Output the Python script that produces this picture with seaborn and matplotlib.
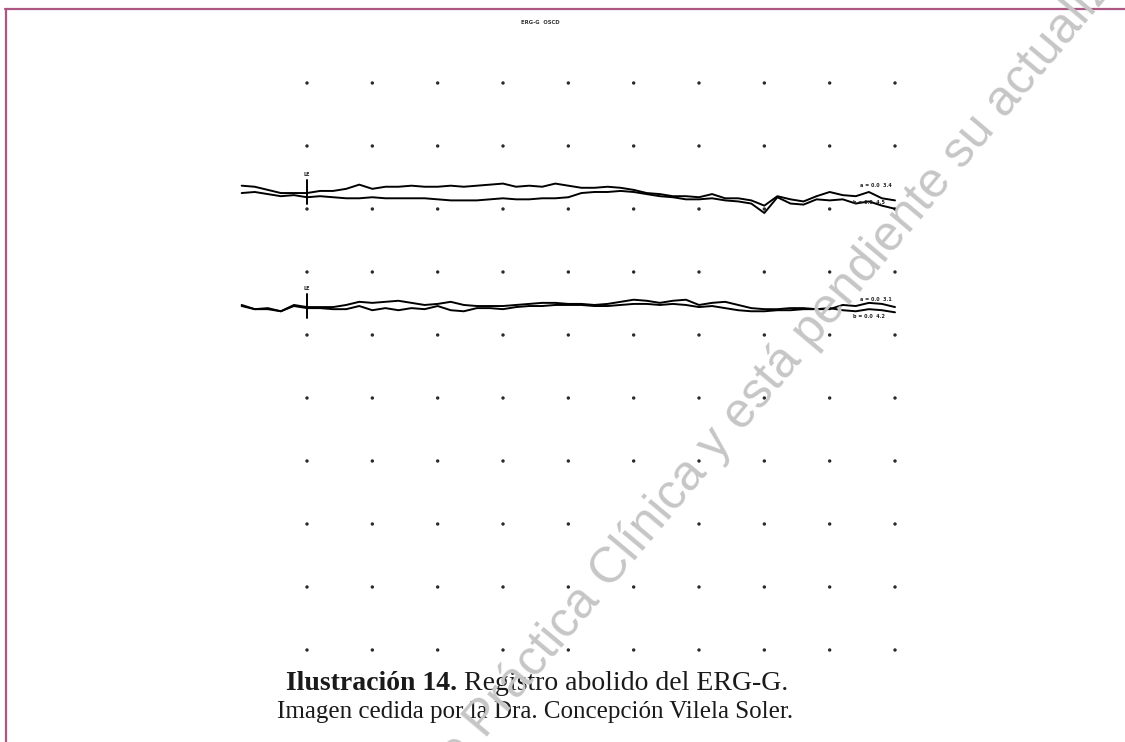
import matplotlib
matplotlib.use('Agg')
import numpy as np
import pandas as pd
import matplotlib.pyplot as plt
from matplotlib.lines import Line2D
import seaborn as sns

# sampling clock of the recording (ms), stimulus at 0
time_ms = [-20, -16, -12, -8, -4, 0, 4, 8, 12, 16,
           20, 24, 28, 32, 36, 40, 44, 48, 52, 56,
           60, 64, 68, 72, 76, 80, 84, 88, 92, 96,
           100, 104, 108, 112, 116, 120, 124, 128, 132, 136,
           140, 144, 148, 152, 156, 160, 164, 168, 172, 176,
           180]

# channel 1 (upper trace), two superimposed runs, uV from baseline
ch1_run1 = [6, 5, 2, -1, -1, -1, 1, 1, 3, 7,
            3, 5, 5, 6, 5, 5, 6, 5, 6, 7,
            8, 5, 6, 5, 8, 6, 4, 4, 5, 4,
            2, -1, -2, -4, -4, -5, -2, -6, -6, -8,
            -13, -4, -7, -9, -4, 0, -3, -4, 0, -6,
            -8]
ch1_run2 = [-1, 0, -2, -4, -3, -5, -4, -5, -6, -6,
            -5, -6, -6, -6, -6, -7, -8, -8, -8, -7,
            -6, -7, -7, -6, -6, -5, -1, 0, 0, 1,
            0, -2, -4, -5, -7, -7, -6, -8, -9, -11,
            -20, -5, -11, -12, -7, -8, -7, -11, -9, -13,
            -16]

# channel 2 (lower trace)
ch2_run1 = [1, -3, -2, -5, 1, -1, -1, -1, 1, 4,
            3, 4, 5, 3, 1, 2, 4, 1, 0, 0,
            0, 1, 2, 3, 3, 2, 2, 1, 2, 4,
            6, 5, 3, 5, 6, 1, 3, 4, 1, -2,
            -3, -3, -2, -2, -3, -3, 1, 0, 3, 2,
            -1]
ch2_run2 = [0, -3, -3, -5, 0, -2, -2, -3, -3, 0,
            -4, -2, -4, -2, -3, 0, -4, -5, -2, -2,
            -3, -1, 0, 0, 1, 1, 1, 0, 0, 1,
            2, 2, 1, 2, 1, -1, 0, -2, -4, -5,
            -5, -4, -4, -3, -3, -2, -4, -5, -3, -4,
            -6]

channel_names = ['LE', 'LE']
readout_top = ['a = 0.0  3.4', 'a = 0.0  3.1']
readout_bottom = ['b = 0.0  4.5', 'b = 0.0  4.2']

# dotted screen grid: columns every 20 ms, rows every division
grid_cols_ms = [0, 20, 40, 60, 80, 100, 120, 140, 160, 180]
grid_rows_div = [0, -1, -2, -3, -4, -5, -6, -7, -8, -9]

UV_PER_DIV = 60
baselines = [-1.73, -3.54]

sns.set_style('white')
plt.rcParams['font.family'] = ['DejaVu Sans']

W, H = 1125, 742
fig = plt.figure(figsize=(W / 100, H / 100), dpi=100)
fig.patch.set_facecolor('white')

# axes placed so that one ms / one division land on the screen grid
x0_px, px_per_ms = 307, 3.2667
y0_px, px_per_div = 83, 63
xlim = (-30, 190)
ylim = (-9.5, 0.5)
left = (x0_px + xlim[0] * px_per_ms) / W
right = (x0_px + xlim[1] * px_per_ms) / W
top = 1 - (y0_px - ylim[1] * px_per_div) / H
bottom = 1 - (y0_px - ylim[0] * px_per_div) / H
ax = fig.add_axes([left, bottom, right - left, top - bottom])
ax.set_xlim(*xlim)
ax.set_ylim(*ylim)
ax.axis('off')

grid = pd.DataFrame([(c, r) for r in grid_rows_div for c in grid_cols_ms],
                    columns=['t', 'row'])
sns.scatterplot(data=grid, x='t', y='row', ax=ax, s=6, color='#2a2a2a',
                edgecolor='none', legend=False)

channels = [(ch1_run1, ch1_run2), (ch2_run1, ch2_run2)]
for i, (runs, base) in enumerate(zip(channels, baselines)):
    for run in runs:
        y = base + np.array(run) / UV_PER_DIV
        sns.lineplot(x=time_ms, y=y, ax=ax, color='black', lw=1.4,
                     estimator=None, sort=False)
    # stimulus marker
    ax.plot([0, 0], [base - 0.19, base + 0.19], color='black', lw=1.4)
    ax.text(0, base + 0.24, channel_names[i], fontsize=3.5,
            fontweight='bold', ha='center', va='bottom', color='#222222')
    ax.text(time_ms[-1] - 1, base + 0.07, readout_top[i], fontsize=3.5,
            fontweight='bold', ha='right', va='bottom', color='#222222')
    ax.text(time_ms[-1] - 3, base - 0.13, readout_bottom[i], fontsize=3.5,
            fontweight='bold', ha='right', va='top', color='#222222')

fig.text(540 / W, 1 - 22 / H, 'ERG-G  OSCD', fontsize=3.8, fontweight='bold',
         ha='center', va='center', color='#333333')

# page frame
frame_col = '#ad5681'
fig.add_artist(Line2D([5 / W, 1], [1 - 9 / H, 1 - 9 / H], color=frame_col,
                      lw=1.6, transform=fig.transFigure))
fig.add_artist(Line2D([6 / W, 6 / W], [0, 1 - 9 / H], color=frame_col,
                      lw=1.6, transform=fig.transFigure))

# caption: bold label followed by regular text, centred as one line
serif = ['Liberation Serif', 'DejaVu Serif']
renderer = fig.canvas.get_renderer()
cap_y = 1 - 683 / H
t_bold = fig.text(0, cap_y, 'Ilustración 14.', fontsize=20,
                  fontweight='bold', family=serif, va='center', ha='left',
                  color='#1a1a1a')
t_reg = fig.text(0, cap_y, ' Registro abolido del ERG-G.', fontsize=20,
                 family=serif, va='center', ha='left', color='#1a1a1a')
wb = t_bold.get_window_extent(renderer).width / W
wr = t_reg.get_window_extent(renderer).width / W
start = 537 / W - (wb + wr) / 2
t_bold.set_x(start)
t_reg.set_x(start + wb)
fig.text(535 / W, 1 - 712 / H,
         'Imagen cedida por la Dra. Concepción Vilela Soler.',
         fontsize=18, family=serif, va='center', ha='center',
         color='#1a1a1a')

# watermark (runs off the page, as in the source document)
fig.text(440 / W, 1 - 793 / H,
         'de Práctica Clínica y está pendiente su actualización',
         fontsize=36, family=['Liberation Sans', 'DejaVu Sans'],
         color='#c6c6c6', rotation=50, rotation_mode='anchor',
         ha='left', va='baseline', zorder=10)

fig.savefig('out.png', dpi=100)
